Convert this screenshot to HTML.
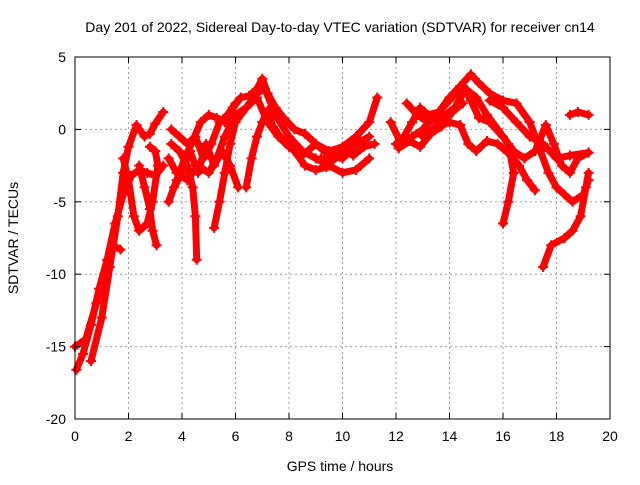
<!DOCTYPE html>
<html><head><meta charset="utf-8"><style>
body{margin:0;background:#fff;}
svg text{font-family:"Liberation Sans",sans-serif;font-size:14px;fill:#000;}
</style></head><body>
<svg id="chart" width="640" height="480">
<rect width="640" height="480" fill="#fff"/>
<g id="grid"></g>
<g id="series"></g>
<rect x="75" y="57" width="535" height="362" fill="none" stroke="#000" stroke-width="1"/>
<g id="axes"></g>
<text x="340" y="32" text-anchor="middle">Day 201 of 2022, Sidereal Day-to-day VTEC variation (SDTVAR) for receiver cn14</text>
<text x="340" y="471" text-anchor="middle">GPS time / hours</text>
<text x="18" y="238" text-anchor="middle" transform="rotate(-90 18 238)">SDTVAR / TECUs</text>
</svg>
<script>
const xTicks=[0,2,4,6,8,10,12,14,16,18,20];
const yTicks=[5,0,-5,-10,-15,-20];
const tracks=[
[[0.05,-16.6],[0.3,-15.5],[0.6,-13.5],[0.9,-11],[1.2,-9],[1.5,-6.5],[1.8,-4.5],[2.1,-3.2],[2.4,-2.8],[2.7,-3],[3.0,-3.2],[3.3,-2.5]],
[[0.0,-15],[0.4,-14.5],[0.8,-12],[1.1,-10],[1.4,-8],[1.7,-8.3]],
[[0.6,-16],[1.0,-13],[1.3,-9.5],[1.6,-6],[1.8,-3],[2.0,-1.2],[2.3,0.3],[2.6,-0.5],[2.8,-0.3],[3.0,0.4],[3.3,1.2]],
[[1.8,-2],[2.0,-3.5],[2.2,-6],[2.4,-7],[2.7,-6.5],[2.9,-5],[3.1,-2.5],[3.0,-1.5],[2.8,-1.2]],
[[2.4,-2.5],[2.6,-4],[2.8,-5.5],[2.9,-7],[3.05,-8]],
[[3.5,-5],[3.8,-3.5],[4.1,-2],[4.4,-0.8],[4.7,0.5],[5.0,1],[5.3,0.8],[5.6,0.5],[5.9,1.5],[6.2,2.2],[6.5,2.3],[6.8,2.8],[7.0,3.5],[7.2,2.5],[7.5,1.5],[7.8,0.8],[8.2,0],[8.6,-0.3],[9.0,-1.0],[9.5,-1.5],[10,-1.2],[10.5,-0.5],[11,0.5],[11.3,2.2]],
[[3.6,-1],[3.9,-1.5],[4.2,-2.5],[4.4,-4],[4.5,-6],[4.55,-9]],
[[3.5,-2],[3.8,-3],[4.2,-3.5],[4.6,-2.5],[5.0,-3],[5.3,-2],[5.6,-0.5],[6.0,1],[6.4,1.5],[6.8,2.5],[7.1,2.8],[7.5,1],[8,-0.5],[8.5,-1.5],[9,-2],[9.5,-2.5],[10,-3],[10.5,-2.8],[11,-2]],
[[5.2,-6.8],[5.4,-5],[5.6,-3],[5.8,-1],[6.0,0.5],[6.4,1.5],[6.8,2.2],[7.2,0.5],[7.6,-0.5],[8.0,-1.2],[8.5,-1.8],[9,-1],[9.5,-1.8],[10,-2],[10.5,-1],[11,-0.5]],
[[6.4,-4],[6.6,-2],[6.8,-0.5],[7.0,0.5],[7.2,1.3],[7.4,0.2],[7.8,-0.8],[8.2,-1.5],[8.6,-2.5],[9,-2.8],[9.4,-2.6],[9.8,-1.5],[10.3,-1],[10.8,-0.8]],
[[3.7,-4],[4.0,-3],[4.3,-1.5],[4.6,-3],[4.9,-1],[5.2,-2.5],[5.5,-1.5],[5.8,-2.5],[6.1,-4]],
[[3.6,0],[3.9,-0.5],[4.2,-1],[4.5,-0.5],[4.8,-2],[5.1,-1],[5.4,0.5],[5.7,1],[6.0,1.8]],
[[9.2,-2],[9.6,-2.2],[10,-1.5],[10.4,-1.8],[10.8,-1.2],[11.2,-1]],
[[12,-1],[12.3,-0.5],[12.6,0.5],[12.9,1.5],[13.2,1],[13.6,1.2],[14,2.2],[14.4,3],[14.8,3.8],[15.1,3.2],[15.5,2.5],[16,2],[16.5,1.8],[17,0.5],[17.4,-1.5],[17.7,-3],[18.0,-4],[18.3,-4.5],[18.6,-5],[19,-4.5],[19.2,-3.5]],
[[11.8,0.5],[12.2,-1],[12.6,-0.5],[13,0],[13.5,1],[14,2],[14.5,3],[14.8,2],[15.1,0.8],[15.5,0.5],[16,-0.5],[16.4,-1.5],[16.8,-2],[17.2,-1.5],[17.6,0.3],[17.9,-1],[18.2,-2.5],[18.5,-3],[18.8,-2],[19.2,-1.6]],
[[12.4,1.8],[12.8,1],[13.2,0.5],[13.7,0.8],[14.2,1.5],[14.6,2.8],[15,2.2],[15.4,1],[15.8,0],[16.2,-1],[16.4,-3],[16.2,-5],[16.0,-6.5]],
[[13,-0.5],[13.5,0.2],[14,0.5],[14.4,0.3],[14.7,-1],[15,-1.5],[15.4,-0.8],[15.8,-1],[16.3,-1.8],[16.6,-2.5],[16.9,-3.5],[17.2,-4.2]],
[[12.1,-1.3],[12.5,-0.8],[12.9,-1.2],[13.3,-0.3],[13.7,0.2],[14.1,1.2],[14.5,1.8]],
[[17.5,-9.5],[17.8,-8],[18.3,-7.5],[18.6,-7],[18.9,-6],[19.1,-4],[19.2,-3]],
[[15.5,2],[16,1.5],[16.5,0.5],[17,-0.5],[17.5,-1],[18,-2],[18.5,-1.8],[19.2,-1.6]],
[[18.5,1],[18.8,1.2],[19.2,1]]
];
const NS='http://www.w3.org/2000/svg';
const X0=75,X1=610,Y0=419,Y1=57;
function sx(h){return X0+(h-0)/(20-0)*(X1-X0);}
function sy(v){return Y0-(v+20)/(25)*(Y0-Y1);}
function mk(tag,attrs,parent){const e=document.createElementNS(NS,tag);for(const k in attrs)e.setAttribute(k,attrs[k]);parent.appendChild(e);return e;}
const grid=document.getElementById('grid'),axes=document.getElementById('axes'),ser=document.getElementById('series');
xTicks.forEach(t=>{
  const x=sx(t);
  if(t>0&&t<20){const g=mk('line',{x1:x,x2:x,y1:Y1,y2:Y0,stroke:'#a0a0a0','stroke-dasharray':'2,3'},grid);
  
  }
  mk('line',{x1:x,x2:x,y1:Y0,y2:Y0-6,stroke:'#000'},axes);
  mk('line',{x1:x,x2:x,y1:Y1,y2:Y1+6,stroke:'#000'},axes);
  const tx=mk('text',{x:x,y:Y0+22,'text-anchor':'middle'},axes);tx.textContent=t;
  
  
});
yTicks.forEach(t=>{
  const y=sy(t);
  if(t>-20&&t<5){const g=mk('line',{x1:X0,x2:X1,y1:y,y2:y,stroke:'#a0a0a0','stroke-dasharray':'2,3'},grid);
  
  }
  mk('line',{x1:X0,x2:X0+6,y1:y,y2:y,stroke:'#000'},axes);
  mk('line',{x1:X1,x2:X1-6,y1:y,y2:y,stroke:'#000'},axes);
  const tx=mk('text',{x:X0-9,y:y+5,'text-anchor':'end'},axes);tx.textContent=t;
  
  
});
tracks.forEach((tr,i)=>{
  const pts=tr.map(p=>sx(p[0]).toFixed(1)+','+sy(p[1]).toFixed(1)).join(' ');
  const pl=mk('polyline',{points:pts,fill:'none',stroke:'#ff0000','stroke-width':7,'stroke-linejoin':'round','stroke-linecap':'round'},ser);
  
  
  tr.forEach(p=>{
    const x=sx(p[0]),y=sy(p[1]);
    const m=mk('path',{d:`M${x-5},${y}H${x+5}M${x},${y-5}V${y+5}`,stroke:'#ff0000','stroke-width':2},ser);
    
    
  });
});
</script>
</body></html>
